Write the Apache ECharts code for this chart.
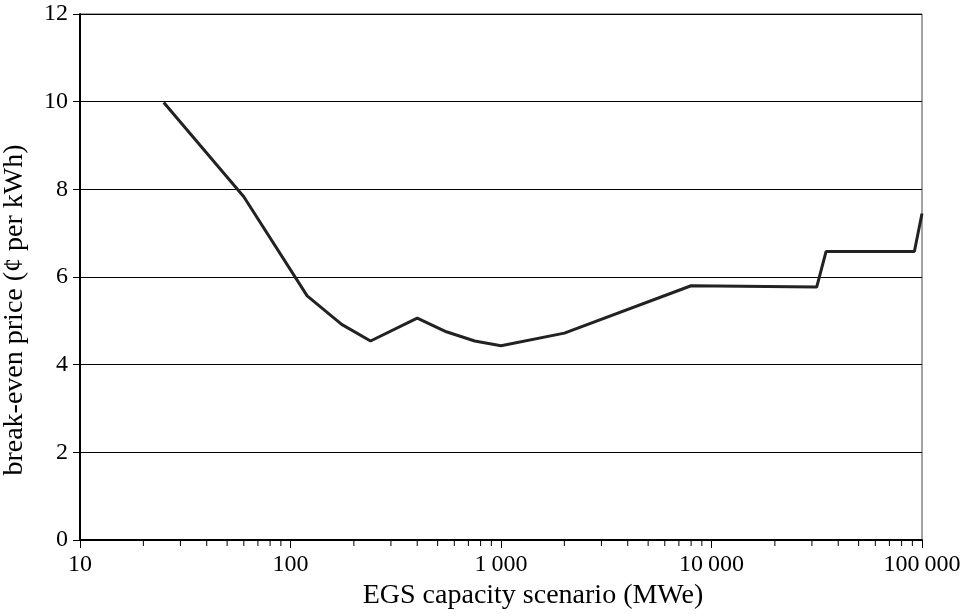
<!DOCTYPE html>
<html>
<head>
<meta charset="utf-8">
<script src="https://cdn.jsdelivr.net/npm/echarts@6/dist/echarts.min.js"></script>
<style>
  html, body { margin: 0; padding: 0; background: #fff; }
  #chart { width: 970px; height: 616px; }
</style>
</head>
<body>
<div id="chart"></div>
<script>
// EGS capacity scenario (MWe) vs break-even price
var capacity = [25, 60, 120, 175, 240, 400, 550, 750, 1000, 2000, 8000, 31600, 35000, 92000, 100000];
var price = [9.98, 7.83, 5.57, 4.92, 4.54, 5.06, 4.75, 4.54, 4.43, 4.72, 5.80, 5.77, 6.58, 6.58, 7.45];

var xMin = 10, xMax = 100000;

// minor ticks at 2..9 of every decade (drawn via custom series)
var minorTicks = [];
for (var d = xMin; d < xMax; d *= 10) {
  for (var k = 2; k <= 9; k++) minorTicks.push([d * k, 0]);
}

var font = 'Liberation Serif, Times New Roman, serif';

function fmtThousands(v) {
  return String(Math.round(v)).replace(/\B(?=(\d{3})+(?!\d))/g, '\u2009');
}

var myChart = echarts.init(document.getElementById('chart'));

var option = {
  animation: false,
  backgroundColor: '#fff',
  grid: {
    left: 80, right: 48, top: 14, bottom: 76,
    containLabel: false,
    outerBoundsMode: 'none',
    show: true, borderColor: '#444', borderWidth: 1
  },
  xAxis: {
    type: 'log',
    logBase: 10,
    min: xMin,
    max: xMax,
    name: 'EGS capacity scenario (MWe)',
    nameLocation: 'middle',
    nameGap: 33,
    nameTextStyle: { fontFamily: font, fontSize: 28, color: '#000', padding: [0, 0, 0, 64] },
    axisLine: { lineStyle: { color: '#000', width: 2 } },
    axisTick: { length: 8, lineStyle: { color: '#000', width: 1 } },
    axisLabel: {
      fontFamily: font, fontSize: 24, color: '#000', margin: 13,
      formatter: fmtThousands
    },
    splitLine: { show: false }
  },
  yAxis: {
    type: 'value',
    min: 0,
    max: 12,
    interval: 2,
    name: 'break-even price (\u00a2 per kWh)',
    nameLocation: 'middle',
    nameGap: 51,
    nameTextStyle: { fontFamily: font, fontSize: 28, color: '#000', padding: [0, 66, 0, 0] },
    axisLine: { show: true, lineStyle: { color: '#000', width: 2 } },
    axisTick: { show: true, length: 7, lineStyle: { color: '#000', width: 1 } },
    axisLabel: { fontFamily: font, fontSize: 24, color: '#000', margin: 12 },
    splitLine: { lineStyle: { color: '#000', width: 1 } }
  },
  series: [
    {
      type: 'line',
      data: capacity.map(function (c, i) { return [c, price[i]]; }),
      symbol: 'none',
      lineStyle: { color: '#222', width: 3 },
      z: 5
    },
    {
      type: 'custom',
      data: minorTicks,
      clip: false,
      silent: true,
      renderItem: function (params, api) {
        var p = api.coord([api.value(0), 0]);
        return {
          type: 'line',
          shape: { x1: p[0], y1: p[1], x2: p[0], y2: p[1] + 6 },
          style: { stroke: '#000', lineWidth: 1 }
        };
      },
      z: 6
    }
  ]
};

myChart.setOption(option);
</script>
</body>
</html>
